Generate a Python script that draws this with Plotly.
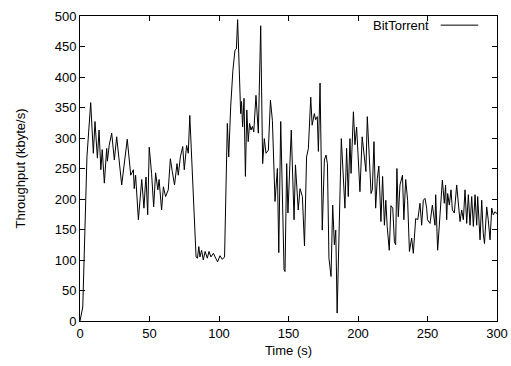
import plotly.graph_objects as go

time_s = [0, 2, 5, 7.7, 9.6, 10.8, 12.5, 13.7, 15, 16, 17.5, 19.2, 19.7, 21, 22.8, 24.7, 26.4, 30, 34, 36.5,
          38.4, 39, 40, 42, 44.4, 46, 47, 47.5, 48.7, 49.8, 51.5, 53, 54.4, 56, 56.9, 58.7, 60, 61.6, 63.5, 65,
          66.4, 68, 69.8, 70.7, 72.2, 73.9, 75, 76.7, 77.9, 79, 80, 83.5, 84.5, 85.5, 86.3, 87.5, 88.7, 90, 91.6, 92.8,
          94.2, 96, 97.6, 99, 100.7, 102.4, 104, 106, 107, 108.4, 110, 111.5, 112.5, 113.4, 115.6, 116.2, 117, 118, 119, 120,
          121, 122, 123, 124, 125, 126.6, 128.3, 130, 131.4, 132.6, 133.8, 135.5, 137, 138.4, 140.3, 142, 143, 144.4, 146.8, 147.5,
          148.7, 149.6, 152, 154, 155, 157, 158.3, 160, 161.5, 163, 164.3, 166, 167, 168.6, 169.5, 170.7, 171.5, 172.7, 174.3, 175.8,
          177, 178, 179.1, 180.6, 181.8, 183, 184, 185, 188, 190.6, 191.8, 193, 194.2, 195, 196.7, 197.8, 199, 201.4, 203, 204.5,
          205.7, 206.7, 207.9, 209.4, 210.3, 211.5, 212.7, 213.9, 215, 216.5, 217.7, 219, 220, 221, 222.5, 223.7, 225, 226.2, 227.1, 228,
          229, 230.2, 232, 233, 234.3, 235.7, 237, 238.6, 239.8, 241.5, 243, 244.6, 245.8, 247, 248.2, 249.4, 250, 251.8, 253.5, 255.4,
          255.9, 257.3, 259, 260.7, 262.1, 263, 263.8, 264.5, 265.7, 266.9, 267.9, 269.3, 271, 272.2, 273.4, 274.6, 275.8, 277, 278.2, 279.4,
          280.6, 281.8, 283, 284.2, 285.4, 286.1, 287.8, 289, 290.1, 291, 292.6, 293.7, 295, 296.2, 297.3, 298.5, 300]

throughput = [0, 23, 269, 358, 275, 327, 267, 313, 248, 281, 226, 283, 262, 288, 308, 264, 302, 223, 298, 239,
              248, 217, 239, 166, 232, 185, 223, 236, 174, 285, 242, 187, 243, 215, 232, 182, 220, 204, 215, 266,
              245, 223, 258, 239, 269, 286, 248, 288, 275, 337, 285, 105, 103, 122, 105, 116, 100, 114, 103, 114,
              105, 111, 103, 97, 107, 101, 105, 324, 269, 351, 411, 444, 446, 494, 340, 360, 318, 365, 237, 346,
              294, 324, 313, 319, 310, 370, 308, 484, 258, 299, 275, 280, 362, 329, 196, 250, 112, 327, 84, 81,
              258, 177, 313, 166, 256, 182, 217, 204, 123, 269, 283, 367, 321, 340, 330, 335, 278, 390, 149, 264,
              272, 258, 103, 73, 190, 125, 149, 13, 299, 185, 283, 204, 299, 242, 343, 289, 318, 212, 302, 269,
              245, 335, 269, 209, 215, 294, 185, 234, 254, 163, 237, 157, 198, 155, 116, 189, 185, 130, 125, 250,
              171, 223, 239, 166, 232, 198, 114, 136, 111, 168, 166, 193, 157, 198, 201, 185, 166, 160, 190, 157,
              207, 116, 174, 231, 193, 223, 166, 209, 190, 215, 182, 177, 223, 187, 163, 182, 166, 215, 160, 207,
              157, 204, 155, 207, 157, 204, 133, 198, 144, 127, 187, 166, 133, 185, 174, 179, 176]

series_name = "BitTorrent"
x_ticks = [0, 50, 100, 150, 200, 250, 300]
y_ticks = [0, 50, 100, 150, 200, 250, 300, 350, 400, 450, 500]

fig = go.Figure()
fig.add_trace(go.Scatter(x=time_s, y=throughput, mode="lines", name=series_name,
                         line=dict(color="black", width=1), showlegend=False))

font = dict(family="Liberation Sans, Arial, sans-serif", size=13, color="black")
axis_common = dict(showline=True, linecolor="black", linewidth=1, mirror="allticks",
                   ticks="inside", ticklen=5, tickcolor="black", showgrid=False, zeroline=False,
                   tickfont=font, automargin=False, ticklabeloverflow="allow")

fig.update_xaxes(range=[0, 300], tickvals=x_ticks, title=dict(text="Time (s)", font=font, standoff=6),
                 **axis_common)
fig.update_yaxes(range=[0, 500], tickvals=y_ticks, title=dict(text="Throughput (kbyte/s)", font=font, standoff=26),
                 **axis_common)

fig.add_annotation(x=0.842, y=0.97, xref="paper", yref="paper", text=series_name, showarrow=False,
                   xanchor="right", yanchor="middle", font=font)
fig.add_shape(type="line", xref="paper", yref="paper", x0=0.865, x1=0.955, y0=0.97, y1=0.97,
              line=dict(color="black", width=1))

fig.update_layout(width=511, height=366, margin=dict(l=80, r=14, t=16, b=45),
                  plot_bgcolor="white", paper_bgcolor="white", font=font, hovermode=False)

fig.write_html("out.html", config={"displayModeBar": False, "staticPlot": True},
               post_script="document.body.style.margin='0';document.body.style.overflow='hidden';")
